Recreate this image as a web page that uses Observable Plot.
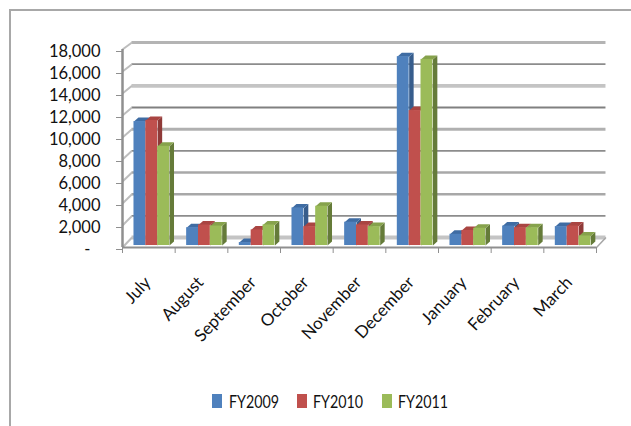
<!DOCTYPE html>
<html>
<head>
<meta charset="utf-8">
<script src="https://cdn.jsdelivr.net/npm/d3@7"></script>
<script src="https://cdn.jsdelivr.net/npm/@observablehq/plot@0.6"></script>
<style>
  html, body { margin: 0; padding: 0; background: #fff; }
  #page { position: relative; width: 631px; height: 426px; overflow: hidden; font-family: Lato, sans-serif; color: #111; }
  #frame { position: absolute; left: 9px; top: 9px; right: -4px; bottom: -4px; border-left: 2px solid #a8a8a8; border-top: 2px solid #a8a8a8; }
  #chart { position: absolute; left: 0; top: 0; }
  #legend { position: absolute; left: 0; top: 392px; width: 631px; height: 20px; }
  #legend span { position: absolute; top: 0; font-size: 17px; line-height: 20px; transform: scale(0.84, 1.06); transform-origin: left center; }
  #legend i { position: absolute; top: 2px; width: 10px; height: 14px; }
</style>
</head>
<body>
<div id="page">
  <div id="frame"></div>
  <div id="chart"></div>
  <div id="legend"></div>
</div>
<script>
const months = ["July", "August", "September", "October", "November", "December", "January", "February", "March"];
const fy2009 = [11450, 1800, 450, 3600, 2300, 17350, 1200, 1950, 1900];
const fy2010 = [11550, 2050, 1600, 1900, 2050, 12450, 1550, 1800, 1950];
const fy2011 = [9200, 1950, 2050, 3750, 1900, 17100, 1750, 1800, 1050];
const seriesNames = ["FY2009", "FY2010", "FY2011"];
const yTicks = [2000, 4000, 6000, 8000, 10000, 12000, 14000, 16000, 18000];

// Face colours per series: front, side, top
const palette = [
  {front: "#4f81bd", side: "#375d8c", top: "#3f6ca3"},
  {front: "#c0504d", side: "#8f3a38", top: "#a94542"},
  {front: "#9bbb59", side: "#657b39", top: "#86a24c"}
];

// Oblique projection, expressed in data units of the two scales
const wallDx = 0.18, wallDy = 909, wallShrink = 195 / 198;
const barStart = 0.218, barWidth = 0.225, barDx = 0.085, barDy = 364, barFloor = 180;
const toWall = v => v * wallShrink + wallDy;

// Back-wall rules alternate in weight, listed from the floor upward
const ruleStroke = ["#c4c4c4", "#8c8c8c", "#a8a8a8", "#a8a8a8", "#8c8c8c", "#b0b0b0", "#808080", "#c4c4c4", "#8c8c8c", "#b4b4b4"];
const ruleWidth = [3.8, 1.8, 2.5, 2.5, 1.8, 3, 1.8, 3.8, 1.8, 3.2];
const wallRules = [0, ...yTicks].map((v, i) => ({v, stroke: ruleStroke[i], width: ruleWidth[i]}));

// One record per bar
const bars = [fy2009, fy2010, fy2011].flatMap((values, s) =>
  values.map((value, m) => {
    const x1 = m + barStart + s * barWidth;
    return {id: `${s}-${m}`, s, x1, x2: x1 + barWidth, value};
  })
);

// Side and top faces as closed polygons, back-to-front in series order
const faces = bars.flatMap(b => {
  const c = palette[b.s];
  const poly = (kind, fill, pts) => pts.map(([x, y]) => ({id: b.id + kind, fill, x, y}));
  return [
    ...poly("side", c.side, [
      [b.x2, barFloor], [b.x2 + barDx, barFloor + barDy],
      [b.x2 + barDx, b.value + barDy], [b.x2, b.value]
    ]),
    ...poly("top", c.top, [
      [b.x1, b.value], [b.x1 + barDx, b.value + barDy],
      [b.x2 + barDx, b.value + barDy], [b.x2, b.value]
    ])
  ];
});

const plot = Plot.plot({
  width: 631,
  height: 390,
  marginLeft: 122,
  marginRight: 35,
  marginTop: 49,
  marginBottom: 143,
  style: {fontFamily: "Lato, sans-serif", fontSize: "16.5px", color: "#111", background: "transparent"},
  x: {type: "linear", domain: [0, 9], axis: null},
  y: {domain: [0, 18000], axis: null},
  marks: [
    // Back wall and floor rules
    Plot.ruleY(wallRules, {
      y: d => toWall(d.v), x1: wallDx, x2: 9 + wallDx,
      stroke: "stroke", strokeWidth: "width"
    }),
    // Left wall edges running from the axis to the back wall
    Plot.link([0, ...yTicks], {
      x1: 0, y1: d => d, x2: wallDx, y2: toWall,
      stroke: "#bdbdbd", strokeWidth: 2
    }),
    Plot.link([0], {x1: 9, y1: 0, x2: 9 + wallDx, y2: toWall, stroke: "#a6a6a6", strokeWidth: 1.5}),

    // Bars
    Plot.line(faces, {x: "x", y: "y", z: "id", fill: "fill", stroke: null, curve: "linear-closed"}),
    Plot.rect(bars, {
      x1: "x1", x2: "x2", y1: barFloor, y2: "value",
      fill: d => palette[d.s].front
    }),

    // Axes
    Plot.ruleX([0], {stroke: "#8f8f8f", strokeWidth: 2.5}),
    Plot.ruleY([0], {stroke: "#8f8f8f", strokeWidth: 2}),
    Plot.axisY([0, ...yTicks], {
      tickSize: 6, tickPadding: 16, stroke: "#8f8f8f", label: null,
      tickFormat: d => d === 0 ? "" : d3.format(",")(d), dy: 2
    }),
    Plot.text([0], {y: d => d, x: 0, text: () => "-", frameAnchor: "left", textAnchor: "end", dx: -32, dy: 2}),
    Plot.axisX(d3.range(10), {
      tickSize: 6, tickPadding: 0, stroke: "#8f8f8f", label: null, tickFormat: () => ""
    }),
    Plot.text(months, {
      x: (d, i) => i + 0.5, y: 0, text: d => d, fontSize: 17,
      rotate: -47, textAnchor: "end", dx: -1, dy: 32
    })
  ]
});
document.getElementById("chart").append(plot);

// Legend below the plot
const legend = document.getElementById("legend");
const swatchLeft = [212, 297, 382], labelLeft = [229, 313, 398];
seriesNames.forEach((name, i) => {
  const swatch = document.createElement("i");
  swatch.style.left = swatchLeft[i] + "px";
  swatch.style.background = palette[i].front;
  legend.append(swatch);
  const label = document.createElement("span");
  label.style.left = labelLeft[i] + "px";
  label.textContent = name;
  legend.append(label);
});
</script>
</body>
</html>
